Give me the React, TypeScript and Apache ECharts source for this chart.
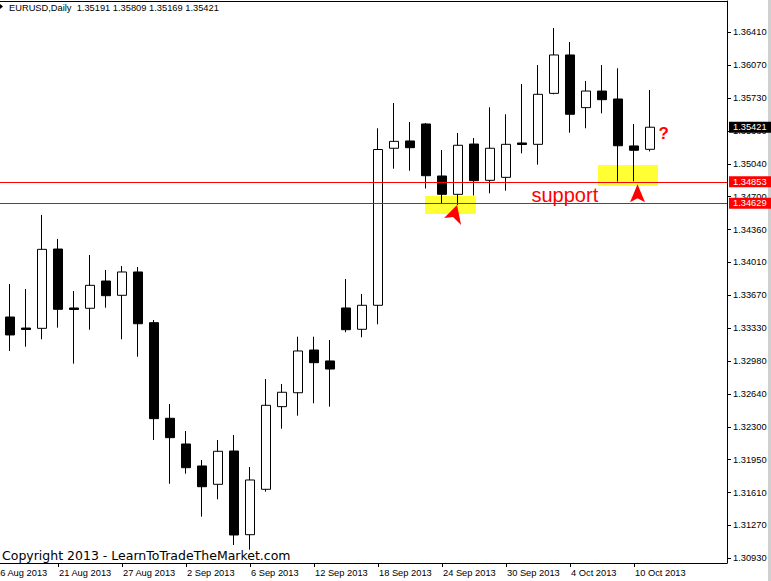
import React, { useEffect, useRef } from "react";
import * as echarts from "echarts";

// ---- data (EURUSD daily) ----
const dates = [
  "16 Aug", "19 Aug", "20 Aug", "21 Aug", "22 Aug", "23 Aug", "26 Aug", "27 Aug", "28 Aug", "29 Aug", "30 Aug",
  "2 Sep", "3 Sep", "4 Sep", "5 Sep", "6 Sep", "9 Sep", "10 Sep", "11 Sep", "12 Sep", "13 Sep",
  "16 Sep", "17 Sep", "18 Sep", "19 Sep", "20 Sep", "23 Sep", "24 Sep", "25 Sep", "26 Sep", "27 Sep",
  "30 Sep", "1 Oct", "2 Oct", "3 Oct", "4 Oct", "7 Oct", "8 Oct", "9 Oct", "10 Oct", "11 Oct",
];
const opens = [
  1.33444, 1.33329, 1.33326, 1.34152, 1.33538, 1.33535, 1.33819, 1.3367, 1.33913, 1.33385, 1.32389,
  1.32121, 1.31892, 1.31701, 1.32048, 1.31176, 1.31649, 1.3251, 1.32655, 1.331, 1.32986,
  1.33538, 1.33316, 1.33566, 1.35202, 1.35278, 1.35455, 1.34913, 1.34722, 1.35246, 1.34868,
  1.34899, 1.35257, 1.35243, 1.35774, 1.36174, 1.35625, 1.35798, 1.35715, 1.35226, 1.35191,
];
const closes = [
  1.33257, 1.33314, 1.34149, 1.33524, 1.33522, 1.33774, 1.33666, 1.33913, 1.33374, 1.32385, 1.32187,
  1.31874, 1.31676, 1.32045, 1.31173, 1.31746, 1.32524, 1.3266, 1.3309, 1.32968, 1.32902,
  1.33312, 1.33566, 1.35189, 1.35274, 1.35208, 1.34916, 1.34722, 1.35233, 1.34864, 1.35202,
  1.35243, 1.35241, 1.35764, 1.36174, 1.35556, 1.35798, 1.35708, 1.35228, 1.35181, 1.35421,
];
const lows = [
  1.3309, 1.33135, 1.33212, 1.33333, 1.32958, 1.33312, 1.33541, 1.33212, 1.3303, 1.32163, 1.31707,
  1.31812, 1.31364, 1.31545, 1.31069, 1.3102, 1.31624, 1.3228, 1.32416, 1.32545, 1.3251,
  1.33285, 1.33233, 1.33368, 1.34989, 1.34968, 1.34783, 1.34622, 1.34611, 1.3471, 1.34733,
  1.3476, 1.35149, 1.35031, 1.35764, 1.35364, 1.3541, 1.35566, 1.34855, 1.34858, 1.35169,
];
const highs = [
  1.33788, 1.33736, 1.34507, 1.34257, 1.33715, 1.3409, 1.33934, 1.33975, 1.33965, 1.33413, 1.32538,
  1.32256, 1.31954, 1.32163, 1.32215, 1.31881, 1.32798, 1.32746, 1.33239, 1.33239, 1.33205,
  1.3384, 1.33684, 1.3541, 1.35673, 1.35476, 1.35465, 1.35184, 1.35361, 1.35309, 1.35629,
  1.35556, 1.35871, 1.36069, 1.36455, 1.36309, 1.35903, 1.36069, 1.36035, 1.35455, 1.35809,
];

// bar index of each date label on the time scale (label sits at the bar's centre)
const dateTickIndex = [-1, 3, 7, 11, 15, 19, 23, 27, 31, 35, 39];
const dateTickLabels = [
  "16 Aug 2013", "21 Aug 2013", "27 Aug 2013", "2 Sep 2013", "6 Sep 2013", "12 Sep 2013",
  "18 Sep 2013", "24 Sep 2013", "30 Sep 2013", "4 Oct 2013", "10 Oct 2013",
];

const priceTicks = [
  1.3093, 1.312725, 1.31615, 1.319575, 1.323, 1.326425, 1.32985, 1.333275, 1.3367,
  1.340125, 1.34355, 1.346975, 1.3504, 1.353825, 1.35725, 1.360675, 1.3641,
];
const priceTickLabels = [
  "1.30930", "1.31270", "1.31610", "1.31950", "1.32300", "1.32640", "1.32980", "1.33330", "1.33670",
  "1.34010", "1.34360", "1.34700", "1.35040", "1.35380", "1.35730", "1.36070", "1.36410",
];

const supportLevels = [1.34853, 1.34629];
const lastPrice = 1.35421;
const titleText = "EURUSD,Daily\u00a0\u00a01.35191 1.35809 1.35169 1.35421";

// highlighted zones [x from, x to, price high, price low] in bar index / price units
const zone1 = [25.94, 29.12, 1.34705, 1.34517];
const zone2 = [36.75, 40.5, 1.35028, 1.34809];
// arrow markers [bar index, price]
const arrow1 = [27.66, 1.34507];
const arrow2 = [39.22, 1.34734];

const AXIS_FONT = "'Liberation Sans', Arial, sans-serif";

export default function App() {
  const ref = useRef<HTMLDivElement>(null);

  useEffect(() => {
    if (!ref.current) return;
    const chart = echarts.init(ref.current, undefined, { renderer: "svg" });

    const candles = dates.map((_, i) => [i, opens[i], closes[i], lows[i], highs[i]]);

    const priceLabel = (v: number) => {
      for (let j = 0; j < priceTicks.length; j++) {
        if (Math.abs(priceTicks[j] - v) < 1e-6) return priceTickLabels[j];
      }
      return "";
    };
    const dateLabel = (v: number) => {
      const j = dateTickIndex.indexOf(Math.round(v));
      return j >= 0 ? dateTickLabels[j] : "";
    };

    const xMin = -1.125;
    const xMax = 44.8125;

    const option: any = {
      animation: false,
      backgroundColor: "#ffffff",
      grid: { left: -8, right: 44, top: 1, bottom: 18, containLabel: false, outerBoundsMode: "none" },
      xAxis: [
        {
          type: "value",
          position: "bottom",
          min: xMin,
          max: xMax,
          axisLine: { show: true, onZero: false, lineStyle: { color: "#000", width: 1 } },
          axisTick: { show: true, length: 4, customValues: dateTickIndex, lineStyle: { color: "#000" } },
          axisLabel: {
            show: true,
            customValues: dateTickIndex,
            formatter: dateLabel,
            align: "left",
            margin: 5,
            padding: [0, 0, 0, 1],
            color: "#000",
            fontSize: 9.3,
            fontFamily: AXIS_FONT,
          },
          splitLine: { show: false },
        },
        {
          type: "value",
          position: "top",
          min: xMin,
          max: xMax,
          axisLine: { show: true, onZero: false, lineStyle: { color: "#000", width: 1 } },
          axisTick: { show: false },
          axisLabel: { show: false },
          splitLine: { show: false },
        },
      ],
      yAxis: {
        type: "value",
        position: "right",
        min: 1.308812,
        max: 1.367361,
        axisLine: { show: true, onZero: false, lineStyle: { color: "#000", width: 1 } },
        axisTick: { show: true, length: 4, customValues: priceTicks, lineStyle: { color: "#000" } },
        axisLabel: {
          show: true,
          customValues: priceTicks,
          formatter: priceLabel,
          margin: 6,
          color: "#000",
          fontSize: 9.3,
          fontFamily: AXIS_FONT,
        },
        splitLine: { show: false },
      },
      series: [
        {
          type: "line",
          data: [],
          z: 1,
          silent: true,
          markArea: {
            silent: true,
            itemStyle: { color: "#ffff33" },
            data: [
              [{ coord: [zone1[0], zone1[2]] }, { coord: [zone1[1], zone1[3]] }],
              [{ coord: [zone2[0], zone2[2]] }, { coord: [zone2[1], zone2[3]] }],
            ],
          },
        },
        {
          type: "line",
          data: [],
          z: 2,
          silent: true,
          markLine: {
            silent: true,
            precision: 5,
            symbol: ["none", "none"],
            lineStyle: { color: "#ff0000", width: 1, type: "solid", opacity: 1 },
            label: {
              show: true,
              position: "end",
              distance: 2,
              color: "#fff",
              fontSize: 9.3,
              fontFamily: AXIS_FONT,
              padding: [1, 5, 1, 4],
              lineHeight: 9,
              backgroundColor: "#ff0000",
              formatter: (p: any) => Number(p.value).toFixed(5),
            },
            data: [
              { yAxis: supportLevels[0] },
              { yAxis: supportLevels[1] },
              {
                yAxis: lastPrice,
                lineStyle: { color: "rgba(0,0,0,0)", width: 0 },
                label: { backgroundColor: "#000000" },
              },
            ],
          },
        },
        {
          type: "candlestick",
          z: 3,
          data: candles,
          barWidth: 10,
          itemStyle: {
            color: "#ffffff",
            color0: "#000000",
            borderColor: "#000000",
            borderColor0: "#000000",
            borderWidth: 1,
          },
        },
        {
          type: "line",
          data: [],
          z: 4,
          silent: true,
          markPoint: {
            silent: true,
            label: { show: false },
            itemStyle: { color: "#ff0000" },
            data: [
              {
                coord: arrow1,
                symbol: "path://M13,0 L17,20 L9,12 L0,13 Z",
                symbolSize: [17, 20],
              },
              {
                coord: arrow2,
                symbol: "path://M7.5,0 L15,18 L7.5,14 L0,18 Z",
                symbolSize: [15, 18],
              },
            ],
          },
        },
      ],
      graphic: [
        { type: "rect", shape: { x: 768, y: 0, width: 3, height: 581 }, style: { fill: "#d0d0d0" }, z: 0 },
        { type: "polygon", shape: { points: [[0, 4], [3, 6.5], [0, 9]] }, style: { fill: "#000" }, z: 10 },
        {
          type: "text",
          x: 9,
          y: 8,
          z: 10,
          style: { text: titleText, fill: "#000", fontSize: 9.3, fontFamily: AXIS_FONT, verticalAlign: "middle", align: "left" },
        },
        {
          type: "text",
          x: 2,
          y: 555.5,
          z: 10,
          style: {
            text: "Copyright 2013 - LearnToTradeTheMarket.com",
            fill: "#000",
            fontSize: 12.5,
            fontFamily: "'DejaVu Sans', Verdana, sans-serif",
            verticalAlign: "middle",
            align: "left",
          },
        },
        {
          type: "text",
          x: 531.5,
          y: 194.5,
          z: 10,
          style: { text: "support", fill: "#ff0000", fontSize: 20, fontFamily: AXIS_FONT, verticalAlign: "middle", align: "left" },
        },
        {
          type: "text",
          x: 658.5,
          y: 133,
          z: 10,
          style: { text: "?", fill: "#ff0000", fontSize: 17, fontWeight: "bold", fontFamily: AXIS_FONT, verticalAlign: "middle", align: "left" },
        },
      ],
    };

    chart.setOption(option);
    return () => chart.dispose();
  }, []);

  return (
    <div
      ref={ref}
      style={{ position: "fixed", left: 0, top: 0, width: 771, height: 581, background: "#fff" }}
    />
  );
}
